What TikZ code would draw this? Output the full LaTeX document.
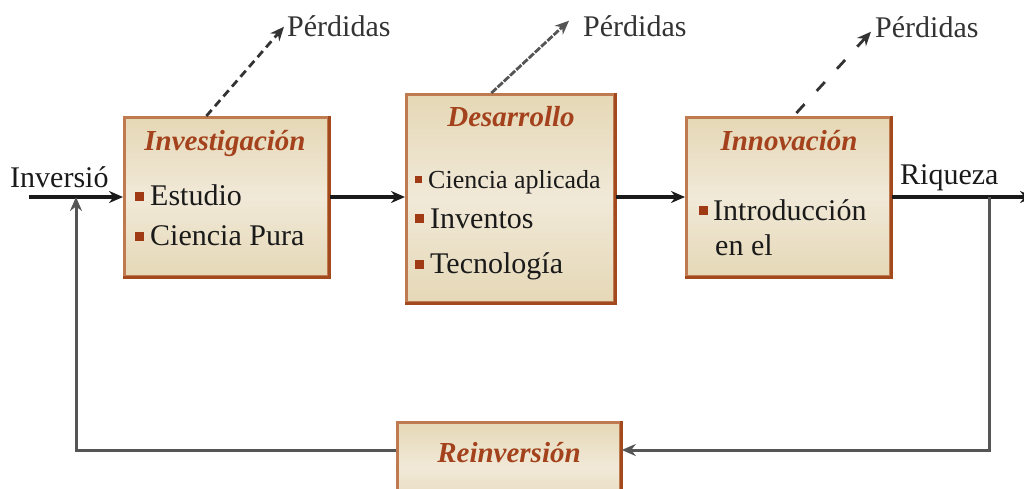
\documentclass[tikz,border=0pt]{standalone}
\usepackage{fontspec}
\setmainfont{Liberation Serif}
\usetikzlibrary{arrows.meta,calc}
\definecolor{boxtop}{HTML}{E5D8B6}
\definecolor{boxmid}{HTML}{F1E9D8}
\definecolor{boxedge}{HTML}{C07A50}
\definecolor{boxdark}{HTML}{A24A1E}
\definecolor{titlec}{HTML}{A3421C}
\definecolor{bulletc}{HTML}{A03A14}
\definecolor{txt}{HTML}{1A1A1A}
\definecolor{fbc}{HTML}{555555}
\definecolor{dashc}{HTML}{333333}
\tikzset{
  box/.style={draw=boxedge, line width=2.8pt, top color=boxtop, bottom color=boxtop, middle color=boxmid, inner sep=0pt, anchor=north west},
  ttl/.style={font=\bfseries\itshape\fontsize{29}{33}\selectfont, text=titlec, inner sep=0pt, anchor=base},
  lbl/.style={font=\fontsize{30}{35}\selectfont, text=txt, inner sep=0pt, anchor=base west},
  small/.style={font=\fontsize{26}{30}\selectfont, text=txt, inner sep=0pt, anchor=base west},
  bul/.style={fill=bulletc, inner sep=0pt, minimum size=9pt},
  bulsm/.style={fill=bulletc, inner sep=0pt, minimum size=7pt},
  mainline/.style={draw=txt, line width=3.2pt},
  fbline/.style={draw=fbc, line width=3pt},
  tip/.style={-{Stealth[length=14pt,width=12pt]}},
  dashone/.style={draw=dashc, line width=2.8pt, dash pattern=on 8pt off 5pt},
  dashtwo/.style={draw=fbc, line width=2.8pt, dash pattern=on 7pt off 1.5pt},
  dashthree/.style={draw=dashc, line width=2.8pt, dash pattern=on 12pt off 18pt},
  darkedge/.style={draw=boxdark, line width=2.8pt}
}
\begin{document}
\begin{tikzpicture}[x=1pt,y=-1pt]
\useasboundingbox (0,0) rectangle (1024,489);

% boxes
\node[box, minimum width=204pt, minimum height=159pt] (inv) at (123,116) {};
\node[box, minimum width=208pt, minimum height=208pt] (des) at (405,93) {};
\node[box, minimum width=204pt, minimum height=159pt] (inn) at (685,116) {};
\node[box, minimum width=223pt, minimum height=90pt] (rei) at (396,421) {};
\foreach \b in {inv,des,inn,rei}{
  \draw[darkedge] (\b.north east) -- (\b.south east) -- (\b.south west);
}

% titles
\node[ttl] (invt) at (225,150) {Investigación};
\node[ttl] (dest) at (511,127) {Desarrollo};
\node[ttl] (innt) at (789,150) {Innovación};
\node[ttl] (reit) at (509,462) {Reinversión};

% investigación contents
\node[bul] (b1) at (139,196) {};
\node[lbl] (t1) at (150,205) {Estudio};
\node[bul] (b2) at (139,236) {};
\node[lbl] (t2) at (150,245) {Ciencia Pura};

% desarrollo contents
\node[bulsm] (b3) at (418,179) {};
\node[small] (t3) at (428,188) {Ciencia aplicada};
\node[bul] (b4) at (419,218) {};
\node[lbl] (t4) at (430,228) {Inventos};
\node[bul] (b5) at (419,264) {};
\node[lbl] (t5) at (430,273) {Tecnología};

% innovación contents
\node[bul] (b6) at (703,210) {};
\node[lbl] (t6) at (713,220) {Introducción};
\node[lbl] (t7) at (715,255) {en el};

% outside labels
\node[lbl] (inv0) at (10,187) {Inversió};
\node[lbl] (riq) at (900,185) {Riqueza};
\node[lbl, text=dashc] (p1) at (287,37) {Pérdidas};
\node[lbl, text=dashc] (p2) at (583,37) {Pérdidas};
\node[lbl, text=dashc] (p3) at (875,38) {Pérdidas};

% coordinates
\coordinate (row) at (0,197);
\coordinate (fbrow) at (0,450);
\coordinate (inL) at (29,197);
\coordinate (fbcol) at (76,197);
\coordinate (rcol) at (989,197);
\coordinate (outR) at (1034,197);

% main flow
\draw[mainline, tip] (inL) -- (inL -| inv.west);
\draw[mainline, tip] (inv.east |- row) -- (des.west |- row);
\draw[mainline, tip] (des.east |- row) -- (inn.west |- row);
\draw[mainline, tip] (inn.east |- row) -- (outR);

% feedback
\draw[fbline, tip] (rcol) |- (rei.east |- fbrow);
\draw[fbline, tip] (rei.west |- fbrow) -| (fbcol);

% losses
\draw[dashone, tip] ($(inv.north)+(-20,0)$) -- ($(p1.west)+(-3,0)$);
\draw[dashtwo, tip] ($(des.north)+(-19,0)$) -- ($(p2.west)+(-14,-6)$);
\draw[dashthree, tip] ($(inn.north)+(8,-3)$) -- ($(p3.west)+(-4,4)$);
\end{tikzpicture}
\end{document}
